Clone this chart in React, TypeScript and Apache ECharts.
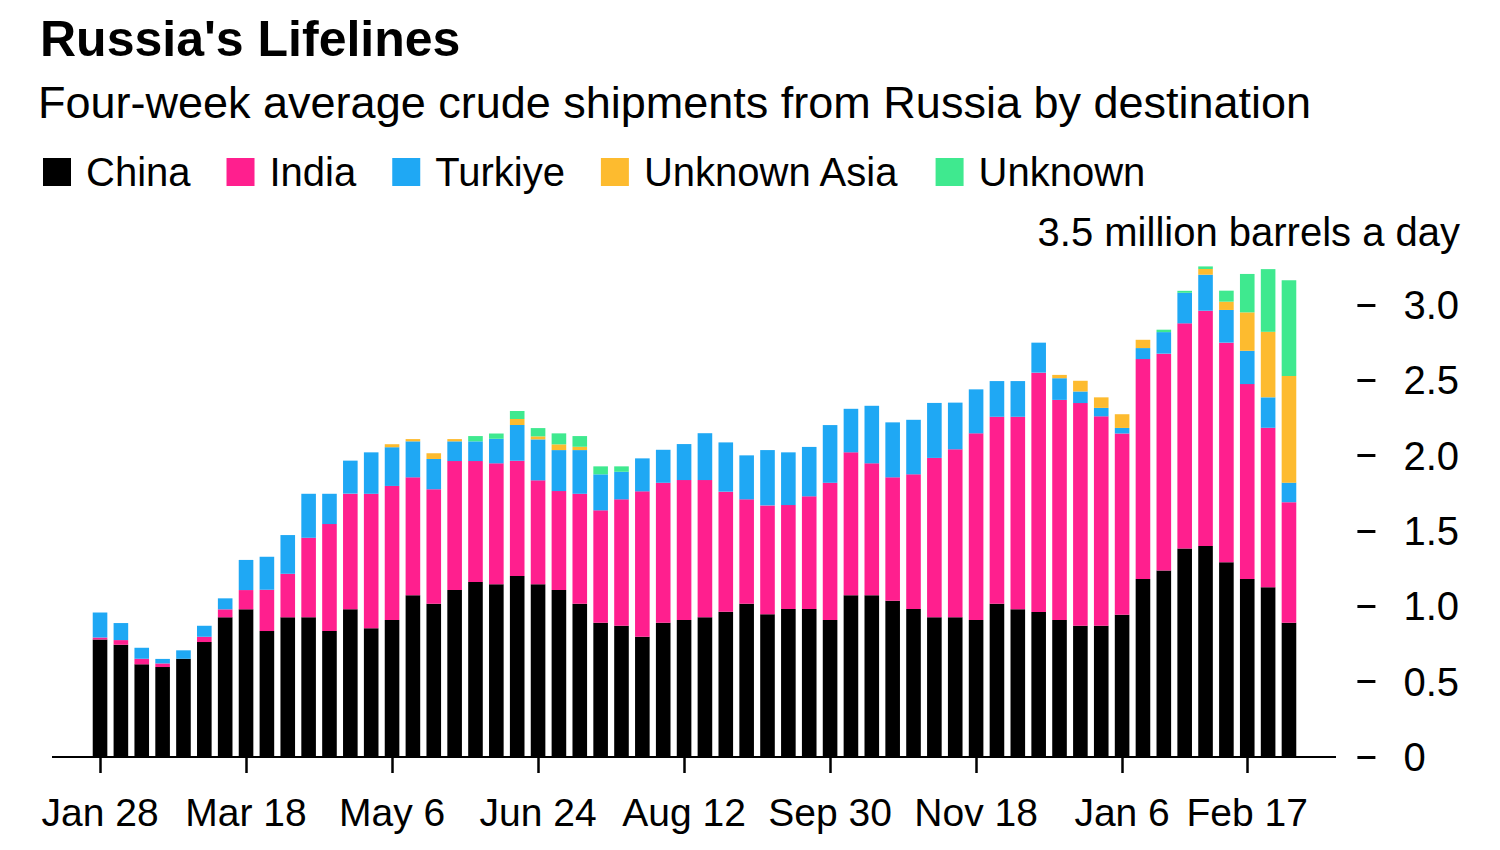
import { useEffect, useRef } from "react";
import * as echarts from "echarts";

// Weekly categories (four-week average, week ending)
const weeks = [
  "Jan 28", "Feb 4", "Feb 11", "Feb 18", "Feb 25", "Mar 4", "Mar 11", "Mar 18", "Mar 25",
  "Apr 1", "Apr 8", "Apr 15", "Apr 22", "Apr 29", "May 6", "May 13", "May 20", "May 27",
  "Jun 3", "Jun 10", "Jun 17", "Jun 24", "Jul 1", "Jul 8", "Jul 15", "Jul 22", "Jul 29",
  "Aug 5", "Aug 12", "Aug 19", "Aug 26", "Sep 2", "Sep 9", "Sep 16", "Sep 23", "Sep 30",
  "Oct 7", "Oct 14", "Oct 21", "Oct 28", "Nov 4", "Nov 11", "Nov 18", "Nov 25", "Dec 2",
  "Dec 9", "Dec 16", "Dec 23", "Dec 30", "Jan 6", "Jan 13", "Jan 20", "Jan 27", "Feb 3",
  "Feb 10", "Feb 17", "Feb 24", "Mar 3",
];

const tickLabels = ["Jan 28", "Mar 18", "May 6", "Jun 24", "Aug 12", "Sep 30", "Nov 18", "Jan 6", "Feb 17"];

const yTicks = [0, 0.5, 1, 1.5, 2, 2.5, 3];

const china = [
  0.78, 0.745, 0.615, 0.597, 0.652, 0.763, 0.927, 0.98, 0.836, 0.927,
  0.927, 0.836, 0.98, 0.854, 0.909, 1.073, 1.017, 1.108, 1.161, 1.146,
  1.201, 1.146, 1.108, 1.017, 0.891, 0.871, 0.798, 0.891, 0.909, 0.927,
  0.964, 1.017, 0.947, 0.982, 0.982, 0.909, 1.073, 1.073, 1.037, 0.982,
  0.927, 0.927, 0.909, 1.017, 0.98, 0.962, 0.909, 0.871, 0.871, 0.944,
  1.181, 1.237, 1.383, 1.4, 1.292, 1.181, 1.126, 0.891,
];

const india = [
  0.013, 0.031, 0.037, 0.024, 0, 0.035, 0.053, 0.128, 0.274, 0.289,
  0.528, 0.71, 0.768, 0.893, 0.89, 0.783, 0.76, 0.856, 0.803, 0.803,
  0.765, 0.69, 0.657, 0.73, 0.746, 0.839, 0.965, 0.929, 0.929, 0.911,
  0.797, 0.693, 0.723, 0.69, 0.748, 0.911, 0.949, 0.876, 0.819, 0.894,
  1.058, 1.115, 1.239, 1.241, 1.278, 1.589, 1.461, 1.478, 1.39, 1.203,
  1.46, 1.44, 1.495, 1.562, 1.458, 1.294, 1.059, 0.8,
];

const turkiye = [
  0.166, 0.113, 0.073, 0.03, 0.056, 0.073, 0.073, 0.2, 0.219, 0.257,
  0.292, 0.201, 0.219, 0.275, 0.257, 0.239, 0.201, 0.131, 0.131, 0.163,
  0.237, 0.272, 0.272, 0.29, 0.239, 0.183, 0.219, 0.219, 0.239, 0.311,
  0.327, 0.292, 0.367, 0.35, 0.328, 0.383, 0.289, 0.382, 0.365, 0.362,
  0.365, 0.31, 0.292, 0.237, 0.237, 0.199, 0.144, 0.077, 0.056, 0.037,
  0.073, 0.143, 0.203, 0.239, 0.217, 0.221, 0.202, 0.13,
];

const unknownAsia = [
  0, 0, 0, 0, 0, 0, 0, 0, 0, 0,
  0, 0, 0, 0, 0.02, 0.015, 0.038, 0.015, 0, 0,
  0.04, 0.02, 0.038, 0.022, 0, 0, 0, 0, 0, 0,
  0, 0, 0, 0, 0, 0, 0, 0, 0, 0,
  0, 0, 0, 0, 0, 0, 0.022, 0.071, 0.07, 0.091,
  0.055, 0, 0, 0.038, 0.055, 0.255, 0.435, 0.708,
];

const unknown = [
  0, 0, 0, 0, 0, 0, 0, 0, 0, 0,
  0, 0, 0, 0, 0, 0, 0, 0, 0.035, 0.035,
  0.053, 0.055, 0.073, 0.071, 0.053, 0.036, 0, 0, 0, 0,
  0, 0, 0, 0, 0, 0, 0, 0, 0, 0,
  0, 0, 0, 0, 0, 0, 0, 0, 0, 0,
  0, 0.016, 0.013, 0.017, 0.073, 0.255, 0.416, 0.635,
];

const seriesNames = ["China", "India", "Turkiye", "Unknown Asia", "Unknown"];
const seriesColors = ["#000000", "#ff1f8e", "#1fa8f4", "#fdbb2f", "#3fe98f"];
const seriesData = [china, india, turkiye, unknownAsia, unknown];

const FONT = "'Liberation Sans', Arial, Helvetica, sans-serif";

export default function App() {
  const ref = useRef<HTMLDivElement>(null);

  useEffect(() => {
    if (!ref.current) return;
    const chart = echarts.init(ref.current, undefined, { renderer: "svg" });
    const showTick = (_i: number, v: string) => tickLabels.includes(v);

    chart.setOption({
      animation: false,
      backgroundColor: "#ffffff",
      textStyle: { fontFamily: FONT, color: "#000" },
      grid: { left: 89.6, right: 200.6, top: 229.65, bottom: 93, containLabel: false },
      legend: {
        data: seriesNames,
        left: 43,
        top: 152,
        padding: 0,
        icon: "rect",
        itemWidth: 28,
        itemHeight: 28,
        itemGap: 36,
        selectedMode: false,
        textStyle: { fontSize: 40, lineHeight: 40, color: "#000", fontFamily: FONT, padding: [0, 0, 0, 10] },
      },
      xAxis: {
        type: "category",
        data: weeks,
        axisLine: { show: false },
        axisTick: {
          show: true,
          alignWithLabel: true,
          interval: showTick,
          length: 16,
          lineStyle: { color: "#000", width: 2.5 },
        },
        axisLabel: {
          interval: showTick,
          margin: 36,
          fontSize: 39,
          color: "#000",
          fontFamily: FONT,
        },
        splitLine: { show: false },
      },
      yAxis: {
        type: "value",
        position: "right",
        offset: 58,
        min: 0,
        max: 3.5,
        interval: 0.5,
        axisLine: { show: false },
        axisTick: {
          show: true,
          length: 18,
          customValues: yTicks,
          lineStyle: { color: "#000", width: 3 },
        },
        axisLabel: {
          customValues: yTicks,
          margin: 46,
          fontSize: 40,
          color: "#000",
          fontFamily: FONT,
          formatter: (v: number) => (v === 0 ? "0" : v.toFixed(1)),
        },
        splitLine: { show: false },
      },
      series: seriesNames.map((name, k) => ({
        name,
        type: "bar",
        stack: "total",
        data: seriesData[k],
        barCategoryGap: "30%",
        itemStyle: { color: seriesColors[k] },
        emphasis: { disabled: true },
      })),
      graphic: [
        {
          type: "text",
          left: 40,
          top: 14,
          style: {
            text: "Russia's Lifelines",
            font: `bold 50px ${FONT}`,
            fill: "#000",
          },
        },
        {
          type: "text",
          left: 38,
          top: 80,
          style: {
            text: "Four-week average crude shipments from Russia by destination",
            font: `45px ${FONT}`,
            fill: "#000",
          },
        },
        {
          type: "text",
          right: 40,
          top: 212,
          style: {
            text: "3.5 million barrels a day",
            font: `40px ${FONT}`,
            fill: "#000",
          },
        },
        {
          type: "line",
          shape: { x1: 52, y1: 757, x2: 1336, y2: 757 },
          style: { stroke: "#000", lineWidth: 2 },
          z: 10,
        },
      ],
    });

    return () => chart.dispose();
  }, []);

  return (
    <div
      ref={ref}
      style={{ position: "fixed", left: 0, top: 0, width: 1500, height: 850, background: "#fff" }}
    />
  );
}
